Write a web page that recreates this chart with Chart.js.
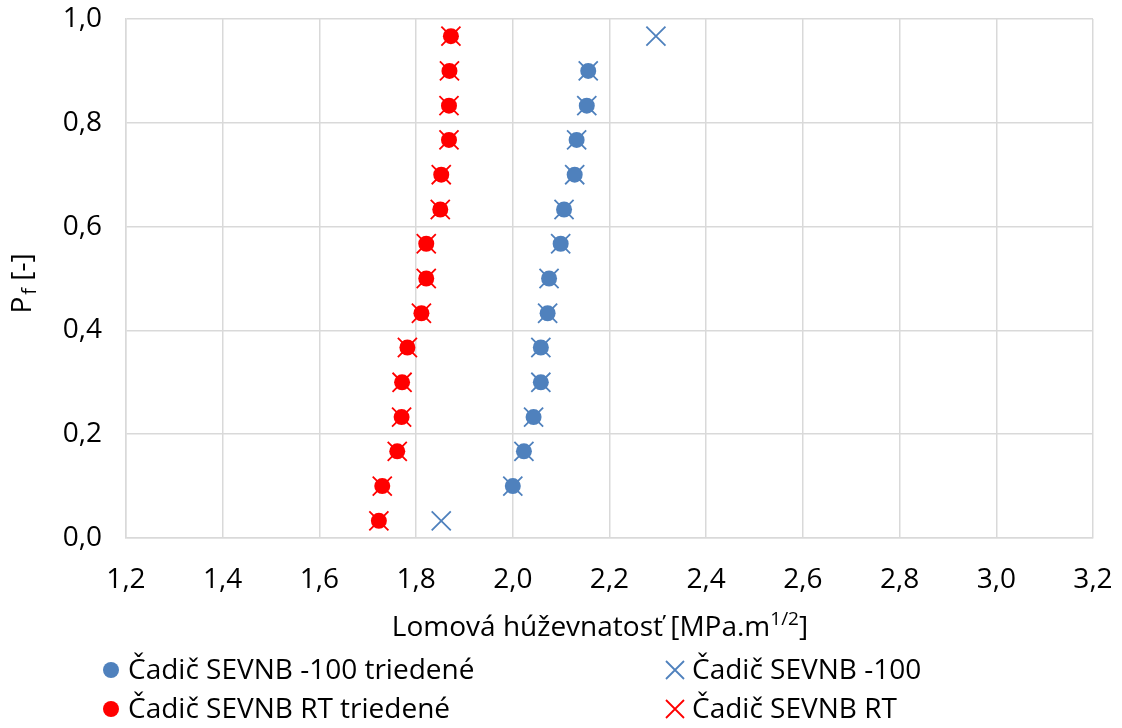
<!DOCTYPE html>
<html>
<head>
<meta charset="utf-8">
<script src="https://cdn.jsdelivr.net/npm/chart.js@4/dist/chart.umd.min.js"></script>
<style>
  html, body { margin: 0; padding: 0; background: #ffffff; }
  #wrap { width: 1122px; height: 728px; position: relative; }
</style>
</head>
<body>
<div id="wrap"><canvas id="c" width="1122" height="728"></canvas></div>
<script>
// ---- data ----
const pf15 = [0.033, 0.100, 0.167, 0.233, 0.300, 0.367, 0.433, 0.500, 0.567, 0.633, 0.700, 0.767, 0.833, 0.900, 0.967];
const pf13 = [0.100, 0.167, 0.233, 0.300, 0.367, 0.433, 0.500, 0.567, 0.633, 0.700, 0.767, 0.833, 0.900];
const kMinus100 = [1.852, 2.000, 2.023, 2.043, 2.058, 2.058, 2.072, 2.075, 2.099, 2.106, 2.128, 2.132, 2.153, 2.156, 2.296];
const kMinus100Sorted = [2.000, 2.023, 2.043, 2.058, 2.058, 2.072, 2.075, 2.099, 2.106, 2.128, 2.132, 2.153, 2.156];
const kRT = [1.723, 1.730, 1.761, 1.770, 1.771, 1.782, 1.811, 1.821, 1.821, 1.850, 1.852, 1.868, 1.868, 1.869, 1.872];
const kRTSorted = [1.723, 1.730, 1.761, 1.770, 1.771, 1.782, 1.811, 1.821, 1.821, 1.850, 1.852, 1.868, 1.868, 1.869, 1.872];
const seriesNames = ['Čadič SEVNB -100 triedené', 'Čadič SEVNB -100', 'Čadič SEVNB RT triedené', 'Čadič SEVNB RT'];
const xTickLabels = ['1,2', '1,4', '1,6', '1,8', '2,0', '2,2', '2,4', '2,6', '2,8', '3,0', '3,2'];
const yTickLabels = ['0,0', '0,2', '0,4', '0,6', '0,8', '1,0'];
const xTitleMain = 'Lomová húževnatosť [MPa.m';
const xTitleSup = '1/2';
const xTitleEnd = ']';
const yTitleMain = 'P';
const yTitleSub = 'f';
const yTitleEnd = ' [-]';

const BLUE = '#4F81BD';
const RED = '#FF0000';
const FONT = '"Open Sans", Lato, sans-serif';
const FS = 28;

function pts(xs, ys) { return xs.map((x, i) => ({ x: x, y: ys[i] })); }

function noPad(scale) {
  scale.paddingTop = 0; scale.paddingBottom = 0;
  scale.paddingLeft = 0; scale.paddingRight = 0;
}

const overlay = {
  id: 'overlay',
  beforeDraw(chart) {
    const ctx = chart.ctx;
    ctx.save();
    ctx.fillStyle = '#ffffff';
    ctx.fillRect(0, 0, chart.width, chart.height);
    ctx.restore();
  },
  afterDraw(chart) {
    const ctx = chart.ctx;
    const ca = chart.chartArea;
    ctx.save();
    ctx.fillStyle = '#000000';
    ctx.textBaseline = 'alphabetic';
    const big = FS + 'px ' + FONT, small = '19px ' + FONT, sub = '20px ' + FONT;
    // x title
    ctx.font = big;
    const w1 = ctx.measureText(xTitleMain).width;
    const w3 = ctx.measureText(xTitleEnd).width;
    ctx.font = small;
    const w2 = ctx.measureText(xTitleSup).width;
    const total = w1 + w2 + w3;
    const x0 = 600 - total / 2;
    const by = 636;
    ctx.textAlign = 'left';
    ctx.font = big; ctx.fillText(xTitleMain, x0, by);
    ctx.font = small; ctx.fillText(xTitleSup, x0 + w1, by - 11);
    ctx.font = big; ctx.fillText(xTitleEnd, x0 + w1 + w2, by);
    // y title
    ctx.save();
    ctx.translate(31, (ca.top + ca.bottom) / 2 + 5);
    ctx.rotate(-Math.PI / 2);
    ctx.font = big;
    const a1 = ctx.measureText(yTitleMain).width;
    const a3 = ctx.measureText(yTitleEnd).width;
    ctx.font = sub;
    const a2 = ctx.measureText(yTitleSub).width;
    const t = a1 + a2 + a3 + 2;
    const s = -t / 2;
    ctx.font = big; ctx.fillText(yTitleMain, s, 0);
    ctx.font = sub; ctx.fillText(yTitleSub, s + a1 + 2, 5);
    ctx.font = big; ctx.fillText(yTitleEnd, s + a1 + a2 + 2, 0);
    ctx.restore();
    // legend
    const items = [
      { name: seriesNames[0], kind: 'circle', color: BLUE, mx: 111, tx: 128, y: 670 },
      { name: seriesNames[1], kind: 'cross', color: BLUE, mx: 675, tx: 692, y: 670 },
      { name: seriesNames[2], kind: 'circle', color: RED, mx: 111, tx: 128, y: 709 },
      { name: seriesNames[3], kind: 'cross', color: RED, mx: 675, tx: 692, y: 709 }
    ];
    items.forEach(it => {
      ctx.fillStyle = it.color;
      ctx.strokeStyle = it.color;
      if (it.kind === 'circle') {
        ctx.beginPath();
        ctx.arc(it.mx, it.y, 8, 0, Math.PI * 2);
        ctx.fill();
      } else {
        ctx.lineWidth = 1.8;
        ctx.beginPath();
        ctx.moveTo(it.mx - 9, it.y - 9); ctx.lineTo(it.mx + 9, it.y + 9);
        ctx.moveTo(it.mx + 9, it.y - 9); ctx.lineTo(it.mx - 9, it.y + 9);
        ctx.stroke();
      }
      ctx.fillStyle = '#000000';
      ctx.font = big;
      ctx.textAlign = 'left';
      ctx.textBaseline = 'middle';
      ctx.fillText(it.name, it.tx, it.y + 1);
    });
    ctx.restore();
  }
};

new Chart(document.getElementById('c'), {
  type: 'scatter',
  data: {
    datasets: [
      { label: seriesNames[0], data: pts(kMinus100Sorted, pf13), pointStyle: 'circle', pointRadius: 8, backgroundColor: BLUE, borderColor: BLUE, borderWidth: 0 },
      { label: seriesNames[1], data: pts(kMinus100, pf15), pointStyle: 'crossRot', pointRadius: 13.5, backgroundColor: BLUE, borderColor: BLUE, borderWidth: 1.8 },
      { label: seriesNames[2], data: pts(kRTSorted, pf15), pointStyle: 'circle', pointRadius: 8, backgroundColor: RED, borderColor: RED, borderWidth: 0 },
      { label: seriesNames[3], data: pts(kRT, pf15), pointStyle: 'crossRot', pointRadius: 13.5, backgroundColor: RED, borderColor: RED, borderWidth: 1.8 }
    ]
  },
  options: {
    responsive: false,
    animation: false,
    events: [],
    layout: { padding: { left: 0, right: 29, top: 19, bottom: 0 } },
    plugins: { legend: { display: false }, tooltip: { enabled: false }, title: { display: false } },
    scales: {
      x: {
        type: 'linear', min: 1.2, max: 3.2,
        afterFit(scale) { scale.height = 190; noPad(scale); },
        ticks: {
          stepSize: 0.2, color: '#000000', padding: 25, maxRotation: 0,
          font: { family: FONT, size: FS },
          callback: (v, i) => xTickLabels[i]
        },
        grid: { color: '#d9d9d9', lineWidth: 1.5, drawTicks: false },
        border: { color: '#d9d9d9', width: 1.5 }
      },
      y: {
        type: 'linear', min: 0, max: 1,
        afterFit(scale) { scale.width = 126; noPad(scale); },
        ticks: {
          stepSize: 0.2, color: '#000000', padding: 24,
          font: { family: FONT, size: FS },
          callback: (v, i) => yTickLabels[i]
        },
        grid: { color: '#d9d9d9', lineWidth: 1.5, drawTicks: false },
        border: { color: '#d9d9d9', width: 1.5 }
      }
    }
  },
  plugins: [overlay]
});
</script>
</body>
</html>
